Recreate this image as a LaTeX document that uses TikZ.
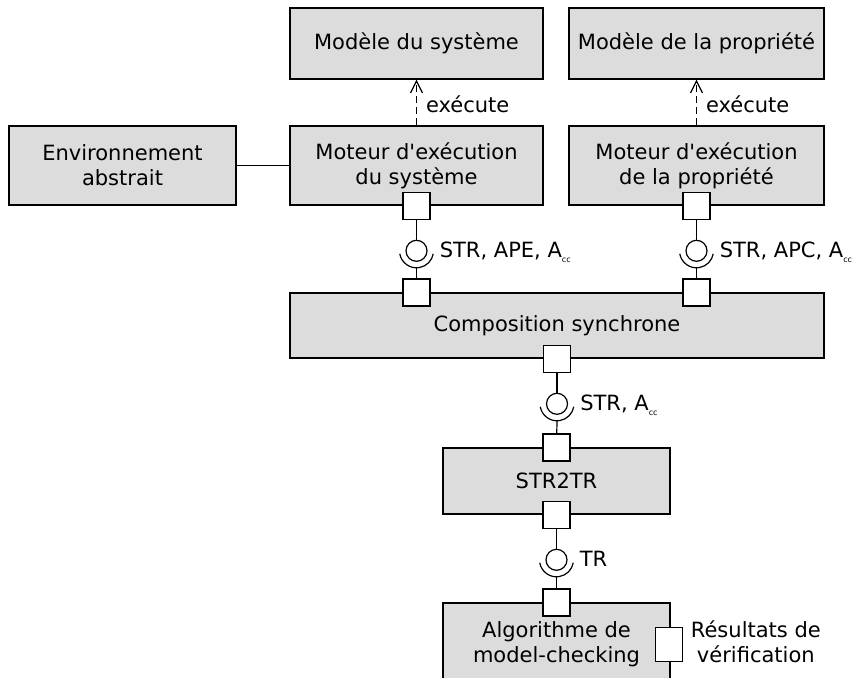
\documentclass[tikz,border=0pt]{standalone}
\usepackage{fontspec}
\setmainfont{DejaVu Sans}
\usepackage{tikz}
\usetikzlibrary{arrows.meta,positioning}
\definecolor{boxgray}{RGB}{220,220,220}
\newcommand{\Acc}{A\raisebox{-5pt}{\fontsize{8}{8}\selectfont cc}}

\tikzset{
  bloc/.style={draw, fill=boxgray, line width=1.2pt, inner sep=0pt, align=center, font=\fontsize{21}{25}\selectfont},
  port/.style={draw, fill=white, line width=1.2pt, inner sep=0pt, minimum size=27pt},
  ball/.style={draw, circle, line width=1.2pt, inner sep=0pt, minimum size=21pt},
  lbl/.style={inner sep=0pt, font=\fontsize{21}{25}\selectfont},
  wire/.style={line width=1.2pt},
  exec/.style={line width=1.2pt, dash pattern=on 7pt off 4pt, -{Straight Barb[length=12pt,width=12pt]}},
}

\begin{document}
\begin{tikzpicture}[x=1pt,y=-1pt]
  \useasboundingbox (0,0) rectangle (856,677);
  \clip (0,0) rectangle (856,677);
  % modeles
  \node[bloc, minimum width=253pt, minimum height=71pt] (sysmodel) at (416.5,43.5) {Modèle du système};
  \node[bloc, minimum width=255pt, minimum height=71pt] (propmodel) at (696.5,43.5) {Modèle de la propriété};
  % moteurs
  \node[bloc, minimum width=227pt, minimum height=79pt] (env) at (122.5,165.5) {Environnement\\abstrait};
  \node[bloc, minimum width=253pt, minimum height=79pt] (sysengine) at (416.5,165.5) {Moteur d\textquotesingle exécution\\du système};
  \node[bloc, minimum width=255pt, minimum height=79pt] (propengine) at (696.5,165.5) {Moteur d\textquotesingle exécution\\de la propriété};
  \node[bloc, minimum width=534pt, minimum height=65pt] (compo) at (557,325.5) {Composition synchrone};
  \node[bloc, minimum width=227pt, minimum height=66pt] (str2tr) at (556.5,481) {STR2TR};
  \node[bloc, minimum width=227pt, minimum height=83pt] (algo) at (556.5,644.5) {Algorithme de\\model-checking};

  \draw[wire] (env) -- (sysengine);
  \draw[exec] (sysengine) -- node[lbl, right=9pt, yshift=-2pt] (x1) {exécute} (sysmodel);
  \draw[exec] (propengine) -- node[lbl, right=9pt, yshift=-2pt] (x2) {exécute} (propmodel);

  % ports
  \node[port] (p1) at (sysengine.south) {};
  \node[port] (p2) at (propengine.south) {};
  \node[port] (p3) at (p1 |- compo.north) {};
  \node[port] (p4) at (p2 |- compo.north) {};
  \node[port] (p5) at (compo.south) {};
  \node[port] (p6) at (str2tr.north) {};
  \node[port] (p7) at (str2tr.south) {};
  \node[port] (p8) at (algo.north) {};
  \node[port, minimum width=27pt, minimum height=34pt] (p9) at ([xshift=-2pt]algo.east) {};

  % interfaces fournies / requises
  \foreach \up/\down/\n in {p1/p3/1, p2/p4/2, p5/p6/3, p7/p8/4} {
    \node[ball, below=20pt of \up] (b\n) {};
    \coordinate (s\n) at ([yshift=-17pt]b\n.center);
    \draw[wire] (\up) -- (b\n);
    \draw[wire] ([shift={(190:17pt)}]b\n.center) arc[start angle=190, end angle=350, radius=17pt];
    \draw[wire] (s\n) -- (\down);
  }
  \node[lbl, anchor=base west] (l1) at ([xshift=12pt,yshift=-7pt]b1.east) {STR, APE, \Acc};
  \node[lbl, anchor=base west] (l2) at ([xshift=12pt,yshift=-7pt]b2.east) {STR, APC, \Acc};
  \node[lbl, anchor=base west] (l3) at ([xshift=12pt,yshift=-7pt]b3.east) {STR, \Acc};
  \node[lbl, anchor=base west] (l4) at ([xshift=12pt,yshift=-7pt]b4.east) {TR};

  \node[lbl, align=center, right=8pt of p9, yshift=3pt] (res) {Résultats de\\vérification};
\end{tikzpicture}
\end{document}
